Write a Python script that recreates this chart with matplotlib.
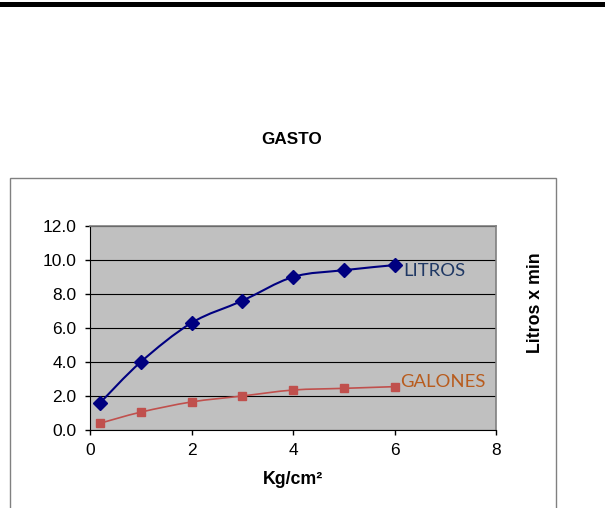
import numpy as np
import matplotlib
matplotlib.use('Agg')
import matplotlib.pyplot as plt
from matplotlib.path import Path
from matplotlib.patches import PathPatch, Rectangle

plt.rcParams['font.family'] = ['Liberation Sans', 'DejaVu Sans']

presion = [0.2, 1, 2, 3, 4, 5, 6]
litros = [1.6, 4.0, 6.3, 7.6, 9.0, 9.4, 9.7]
galones = [0.4, 1.05, 1.65, 2.0, 2.35, 2.45, 2.55]


def smooth_path(x, y):
    # curva tipo Excel: bezier con puntos de control catmull-rom
    pts = np.column_stack([x, y]).astype(float)
    verts = [pts[0]]
    codes = [Path.MOVETO]
    n = len(pts)
    for i in range(n - 1):
        p0 = pts[i - 1] if i > 0 else pts[i]
        p1 = pts[i]
        p2 = pts[i + 1]
        p3 = pts[i + 2] if i + 2 < n else pts[i + 1]
        c1 = p1 + (p2 - p0) / 6.0
        c2 = p2 - (p3 - p1) / 6.0
        verts += [c1, c2, p2]
        codes += [Path.CURVE4] * 3
    return Path(verts, codes)


fig = plt.figure(figsize=(6.05, 5.08), dpi=100)

# barra negra superior
fig.add_artist(Rectangle((0, 1 - 7 / 508), 1, 5 / 508, transform=fig.transFigure,
                         facecolor='black', edgecolor='none'))
# marco del grafico
fig.add_artist(Rectangle((10 / 605, -0.05), 546 / 605, (508 - 178) / 508 + 0.05,
                         transform=fig.transFigure, facecolor='none',
                         edgecolor='#808080', linewidth=1))

ax = fig.add_axes([90 / 605, 78 / 508, 406 / 605, 204 / 508])
ax.set_facecolor('#C0C0C0')
ax.set_xlim(0, 8)
ax.set_ylim(0, 12)
ax.set_xticks([0, 2, 4, 6, 8])
ax.set_yticks(np.arange(0, 12.1, 2))
ax.set_yticklabels([f'{v:.1f}' for v in np.arange(0, 12.1, 2)])
ax.yaxis.grid(True, color='black', linewidth=0.8)
ax.set_axisbelow(True)
for s in ['top', 'right']:
    ax.spines[s].set_color('#808080')
    ax.spines[s].set_linewidth(1.2)
ax.spines['left'].set_color('black')
ax.spines['bottom'].set_color('black')
ax.tick_params(direction='out', length=3.6, width=1, labelsize=12.5, colors='black')
ax.tick_params(axis='y', pad=6)
ax.tick_params(axis='x', pad=6)

ax.add_patch(PathPatch(smooth_path(presion, litros), facecolor='none',
                       edgecolor='#000080', linewidth=1.5, zorder=3))
ax.plot(presion, litros, linestyle='none', marker='D', markersize=7,
        color='#000080', zorder=4, clip_on=False)
ax.add_patch(PathPatch(smooth_path(presion, galones), facecolor='none',
                       edgecolor='#C0504D', linewidth=1.2, zorder=3))
ax.plot(presion, galones, linestyle='none', marker='s', markersize=6,
        color='#C0504D', zorder=4, clip_on=False)

ax.annotate('LITROS', (presion[-1], litros[-1]), xytext=(6, -4), textcoords='offset points',
            ha='left', va='center', fontsize=13.3, color='#1F3864', family=['Lato', 'DejaVu Sans'])
ax.annotate('GALONES', (presion[-1], galones[-1]), xytext=(4, 3), textcoords='offset points',
            ha='left', va='center', fontsize=13.3, color='#B85C1E', family=['Lato', 'DejaVu Sans'])

fig.text(292 / 605, 1 - 140 / 508, 'GASTO', ha='center', va='center',
         fontsize=12.3, fontweight='bold')
fig.text(293 / 605, 1 - 479 / 508, 'Kg/cm²', ha='center', va='center',
         fontsize=12.8, fontweight='bold')
fig.text(535 / 605, 1 - 303 / 508, 'Litros x min', ha='center', va='center',
         rotation=90, fontsize=12.8, fontweight='bold')

fig.savefig('out.png', dpi=100)
